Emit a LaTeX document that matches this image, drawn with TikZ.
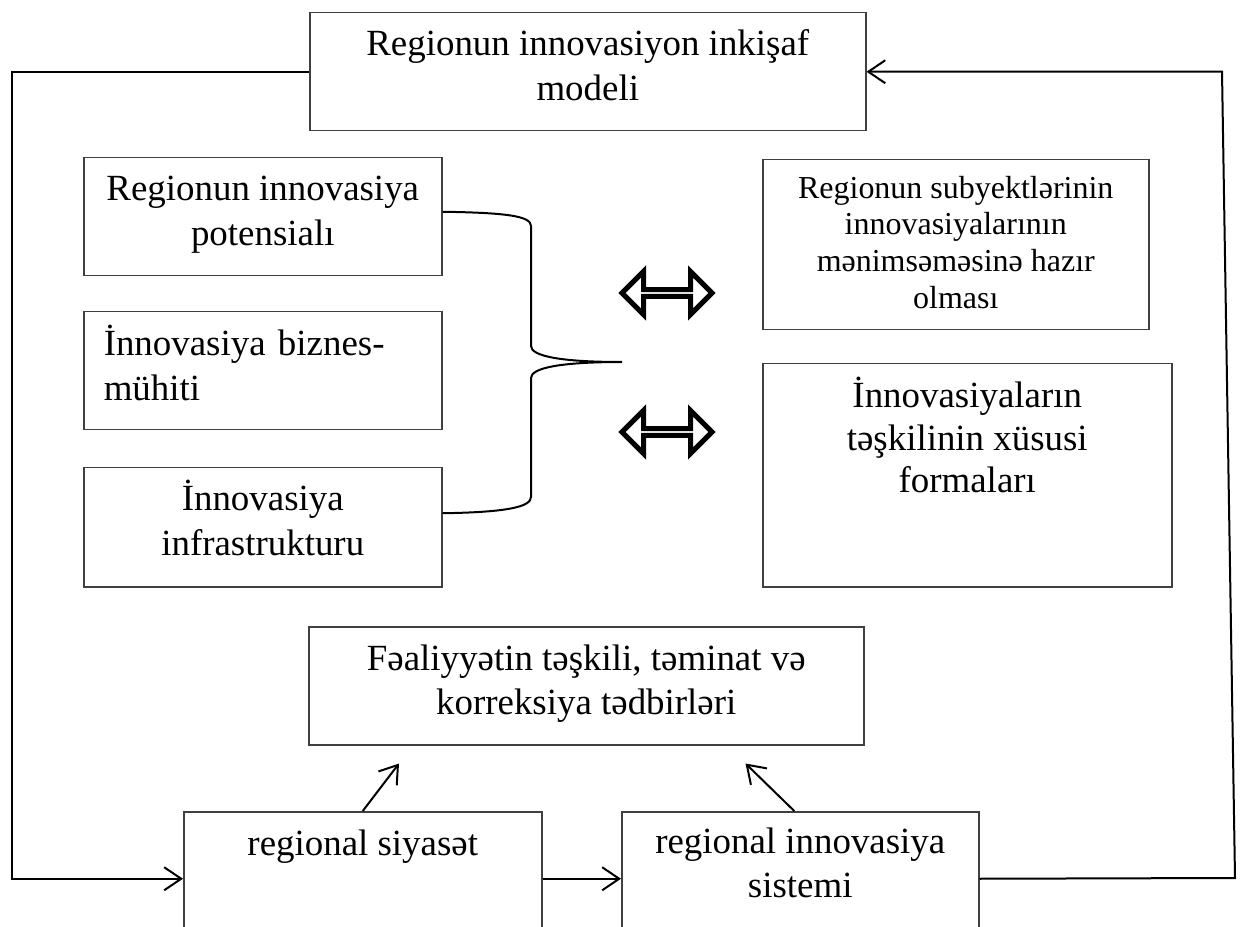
\documentclass[tikz,border=0pt]{standalone}
\usepackage{fontspec}
\setmainfont{Liberation Serif}
\usepackage{xcolor}
\usepackage{tikz}
\usetikzlibrary{calc,arrows.meta,positioning,shapes.arrows}
\definecolor{boxgray}{RGB}{64,64,64}

\tikzset{
  box/.style={draw=boxgray, line width=0.3mm, inner xsep=2mm, inner ysep=0pt,
    align=center, anchor=north west, font=\fontsize{21}{25.6}\selectfont},
  conn/.style={line width=0.4mm, -{Straight Barb[length=3.4mm,width=4.6mm]}},
  dblarr/.style={double arrow, draw, line width=1mm, double arrow tip angle=90,
    double arrow head extend=2.6mm, minimum height=18mm, minimum width=8.6mm, inner sep=0pt},
}

\begin{document}
\begin{tikzpicture}[x=0.2mm,y=-0.2mm]
\useasboundingbox (0,0) rectangle (1240,927);
\clip (0,0) rectangle (1240,927);

% top model
\node[box, minimum width=111.2mm, text height=17.6mm, text depth=6mm] (model) at (309,12) {Regionun innovasiyon inkişaf\\modeli};

% left column
\node[box, minimum width=71.6mm, text height=17.6mm, text depth=6mm] (potential) at (83,157) {Regionun innovasiya\\potensialı};
\node[box, text width=63.6mm, inner xsep=4mm, align=left, text height=8.8mm, text depth=14.8mm] (biznes) at (83,311) {İnnovasiya biznes-\\mühiti};
\node[box, minimum width=71.6mm, text height=17.6mm, text depth=6.2mm] (infra) at (83,467) {İnnovasiya\\infrastrukturu};

% right column
\node[box, minimum width=77.2mm, text height=29.8mm, text depth=4.2mm, font=\fontsize{18.2}{21}\selectfont] (hazir) at (762,159) {Regionun subyektlərinin\\innovasiyalarının\\mənimsəməsinə hazır\\olması};
\node[box, minimum width=81.8mm, text height=25.8mm, text depth=18.8mm, font=\fontsize{21}{24.2}\selectfont] (forma) at (762,363) {İnnovasiyaların\\təşkilinin xüsusi\\formaları};

\node[dblarr] (dbl1) at (667,293) {};
\node[dblarr] (dbl2) at (667,432) {};

% brace
\draw[line width=0.4mm] ($(potential.east)+(0,-5)$) .. controls +(64,1) and +(0,-10) .. (531,226) -- (531,346)
  .. controls +(0,10) and +(-62,0) .. (622,362) .. controls +(-62,0) and +(0,-10) .. (531,378) -- (531,497)
  .. controls +(0,10) and +(64,-1) .. ($(infra.east)+(0,-14)$);

% bottom
\node[box, minimum width=111mm, text height=17.6mm, text depth=6mm, font=\fontsize{21}{25}\selectfont] (tedbir) at (308,626) {Fəaliyyətin təşkili, təminat və\\korreksiya tədbirləri};
\node[box, minimum width=71.6mm, text height=8.8mm, text depth=18mm] (siyaset) at (183,811) {regional siyasət};
\node[box, minimum width=71.4mm, text height=17.2mm, text depth=9.6mm, font=\fontsize{21}{25}\selectfont] (sistem) at (621,811) {regional innovasiya\\sistemi};

\coordinate (lft) at (12,500);
\coordinate (rbot) at (1235,878);
\coordinate (rtop) at (1222,0);

\draw[conn] (model.west) -| (lft) |- (siyaset.west);
\draw[conn] (sistem.east) -- (rbot) -- (rtop |- model.east) -- (model.east);
\draw[conn] (siyaset.east) -- (sistem.west);
\draw[conn] (siyaset.north) -- ($(tedbir.south west)+(91,18)$);
\draw[conn] ($(sistem.north)+(-6,0)$) -- ($(tedbir.south east)+(-119,18)$);
\end{tikzpicture}
\end{document}
